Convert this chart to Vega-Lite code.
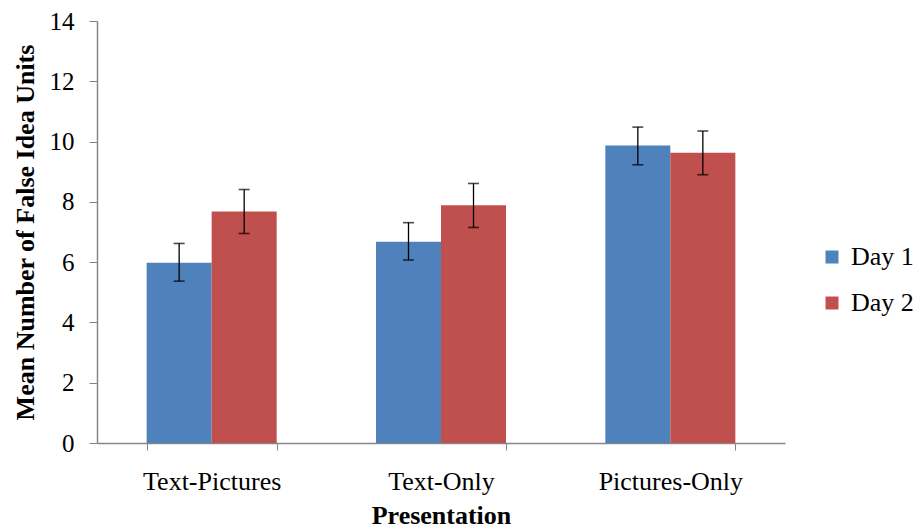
{
  "$schema": "https://vega.github.io/schema/vega-lite/v6.json",
  "width": 688,
  "height": 422,
  "autosize": {"type": "none"},
  "padding": {"left": 97, "top": 21, "right": 128, "bottom": 89},
  "background": "white",
  "config": {
    "view": {"stroke": null},
    "axis": {"labelFont": "Liberation Serif", "titleFont": "Liberation Serif", "labelColor": "#000", "titleColor": "#000", "domainColor": "#868686", "tickColor": "#868686", "grid": false},
    "legend": {"labelFont": "Liberation Serif"}
  },
  "data": {
    "values": [
      {"presentation": "Text-Pictures", "day": "Day 1", "mean": 5.98, "lo": 5.37, "hi": 6.62},
      {"presentation": "Text-Pictures", "day": "Day 2", "mean": 7.68, "lo": 6.95, "hi": 8.41},
      {"presentation": "Text-Only", "day": "Day 1", "mean": 6.68, "lo": 6.07, "hi": 7.31},
      {"presentation": "Text-Only", "day": "Day 2", "mean": 7.89, "lo": 7.15, "hi": 8.61},
      {"presentation": "Pictures-Only", "day": "Day 1", "mean": 9.87, "lo": 9.23, "hi": 10.48},
      {"presentation": "Pictures-Only", "day": "Day 2", "mean": 9.63, "lo": 8.9, "hi": 10.35}
    ]
  },
  "encoding": {
    "x": {
      "field": "presentation", "type": "nominal",
      "sort": ["Text-Pictures", "Text-Only", "Pictures-Only"],
      "scale": {"paddingInner": 0.433, "paddingOuter": 0.2165},
      "axis": {"title": "Presentation", "labelAngle": 0, "labelFontSize": 26, "titleFontSize": 26, "titleFontWeight": "bold", "tickBand": "extent", "tickSize": 7, "labelPadding": 18, "titlePadding": 8, "domainWidth": 1.5}
    },
    "xOffset": {"field": "day", "type": "nominal", "scale": {"paddingInner": 0, "paddingOuter": 0}}
  },
  "layer": [
    {
      "mark": {"type": "bar"},
      "encoding": {
        "y": {"field": "mean", "type": "quantitative", "scale": {"domain": [0, 14], "nice": false}, "axis": {"title": "Mean Number of False Idea Units", "values": [0, 2, 4, 6, 8, 10, 12, 14], "labelFontSize": 25, "titleFontSize": 26, "titleFontWeight": "bold", "tickSize": 8, "labelPadding": 15, "titlePadding": 11, "domainWidth": 1.5}},
        "color": {"field": "day", "type": "nominal", "scale": {"domain": ["Day 1", "Day 2"], "range": ["#4F81BD", "#C0504D"]},
          "legend": {"title": null, "orient": "none", "legendX": 722, "legendY": 223, "symbolType": "square", "symbolSize": 169, "symbolStrokeWidth": 0, "labelFontSize": 26, "labelColor": "#000", "rowPadding": 20, "labelOffset": 6}}
      }
    },
    {
      "mark": {"type": "rule", "color": "#000", "strokeWidth": 1.3},
      "encoding": {"y": {"field": "lo", "type": "quantitative"}, "y2": {"field": "hi"}}
    },
    {
      "mark": {"type": "tick", "color": "#000", "size": 11, "thickness": 1.6},
      "encoding": {"y": {"field": "lo", "type": "quantitative"}}
    },
    {
      "mark": {"type": "tick", "color": "#000", "size": 11, "thickness": 1.6},
      "encoding": {"y": {"field": "hi", "type": "quantitative"}}
    }
  ]
}
